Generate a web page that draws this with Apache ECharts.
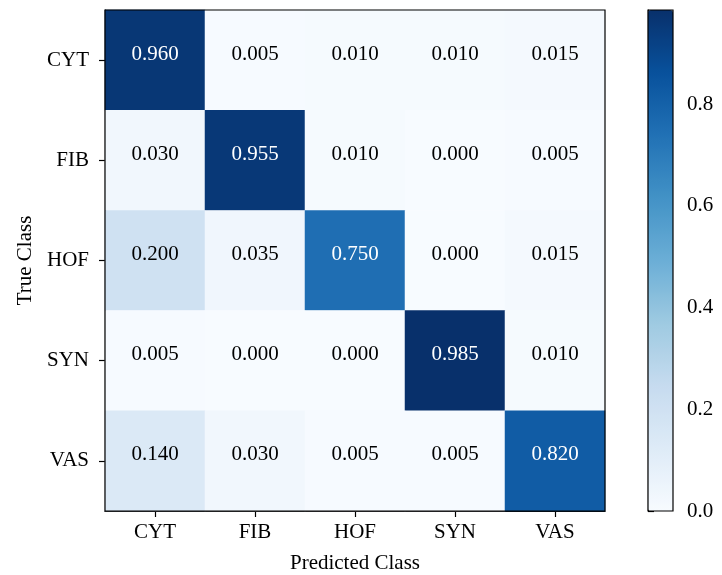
<!DOCTYPE html>
<html>
<head>
<meta charset="utf-8">
<script src="https://cdn.jsdelivr.net/npm/echarts@6/dist/echarts.min.js"></script>
<style>
  html, body { margin: 0; padding: 0; background: #fff; }
  #chart { width: 722px; height: 575px; }
</style>
</head>
<body>
<div id="chart"></div>
<script>
// Class names (predicted along x, true along y)
const classes = ['CYT', 'FIB', 'HOF', 'SYN', 'VAS'];

// Row-normalised confusion matrix, one row per true class
const rowCYT = [0.960, 0.005, 0.010, 0.010, 0.015];
const rowFIB = [0.030, 0.955, 0.010, 0.000, 0.005];
const rowHOF = [0.200, 0.035, 0.750, 0.000, 0.015];
const rowSYN = [0.005, 0.000, 0.000, 0.985, 0.010];
const rowVAS = [0.140, 0.030, 0.005, 0.005, 0.820];
const rows = [rowCYT, rowFIB, rowHOF, rowSYN, rowVAS];

// Colour bar tick values
const barTicks = [0.0, 0.2, 0.4, 0.6, 0.8];

// matplotlib "Blues" colormap anchors
const blues = ['#f7fbff', '#deebf7', '#c6dbef', '#9ecae1', '#6baed6',
               '#4292c6', '#2171b5', '#08519c', '#08306b'];

const cells = [];
rows.forEach((r, i) => r.forEach((v, j) => cells.push([j, i, v])));
const vmin = Math.min(...cells.map(c => c[2]));
const vmax = Math.max(...cells.map(c => c[2]));
const thresh = vmax / 2;

const FONT = 'Liberation Serif';
const FS = 21;

const chart = echarts.init(document.getElementById('chart'), null, { renderer: 'canvas' });
chart.setOption({
  animation: false,
  backgroundColor: '#fff',
  textStyle: { fontFamily: FONT },
  grid: [
    { left: 105, top: 10, width: 500, height: 501, outerBoundsMode: 'none', containLabel: false,
      show: true, borderColor: '#000', borderWidth: 1.2, backgroundColor: 'transparent', z: 5 },
    { left: 648, top: 10, width: 25, height: 501, outerBoundsMode: 'none', containLabel: false,
      show: true, borderColor: '#000', borderWidth: 1.2, backgroundColor: 'transparent', z: 5 }
  ],
  xAxis: [
    {
      gridIndex: 0, type: 'category', data: classes,
      name: 'Predicted Class', nameLocation: 'middle', nameGap: 42,
      nameTextStyle: { fontFamily: FONT, fontSize: FS, color: '#000' },
      axisLine: { show: true, lineStyle: { color: '#000', width: 1.2 } },
      axisTick: { show: true, alignWithLabel: true, length: 6, lineStyle: { color: '#000', width: 1.2 } },
      axisLabel: { fontFamily: FONT, fontSize: FS, color: '#000', margin: 11 },
      splitLine: { show: false }
    },
    {
      gridIndex: 1, type: 'value', show: false, min: 0, max: 1
    }
  ],
  yAxis: [
    {
      gridIndex: 0, type: 'category', data: classes, inverse: true,
      name: 'True Class', nameLocation: 'middle', nameGap: 69, nameRotate: 90,
      nameTextStyle: { fontFamily: FONT, fontSize: FS, color: '#000' },
      axisLine: { show: true, lineStyle: { color: '#000', width: 1.2 } },
      axisTick: { show: true, alignWithLabel: true, length: 6, lineStyle: { color: '#000', width: 1.2 } },
      axisLabel: { fontFamily: FONT, fontSize: FS, color: '#000', margin: 16 },
      splitLine: { show: false }
    },
    {
      gridIndex: 1, type: 'value', position: 'right', min: vmin, max: vmax,
      axisLine: { show: true, lineStyle: { color: '#000', width: 1.2 } },
      axisTick: { show: true, inside: false, length: 6, customValues: barTicks, lineStyle: { color: '#000', width: 1.2 } },
      axisLabel: { fontFamily: FONT, fontSize: FS, color: '#000', margin: 14, customValues: barTicks,
                   formatter: v => v.toFixed(1) },
      splitLine: { show: false }
    }
  ],
  visualMap: {
    type: 'continuous', seriesIndex: 0, min: vmin, max: vmax,
    orient: 'vertical', left: 648, top: 10, itemWidth: 25, itemHeight: 501,
    padding: 0, calculable: false, hoverLink: false, realtime: false,
    text: ['', ''], showLabel: false,
    inRange: { color: blues }
  },
  series: [{
    type: 'heatmap', xAxisIndex: 0, yAxisIndex: 0,
    // white annotation text on dark cells
    data: cells.map(c => ({
      value: c,
      label: { color: c[2] > thresh ? '#fff' : '#000' }
    })),
    itemStyle: { borderWidth: 0 },
    label: {
      show: true, fontFamily: FONT, fontSize: FS,
      offset: [0, -6],
      formatter: p => p.value[2].toFixed(3),
      color: '#000'
    },
    emphasis: { disabled: true }
  }]
});
</script>
</body>
</html>
